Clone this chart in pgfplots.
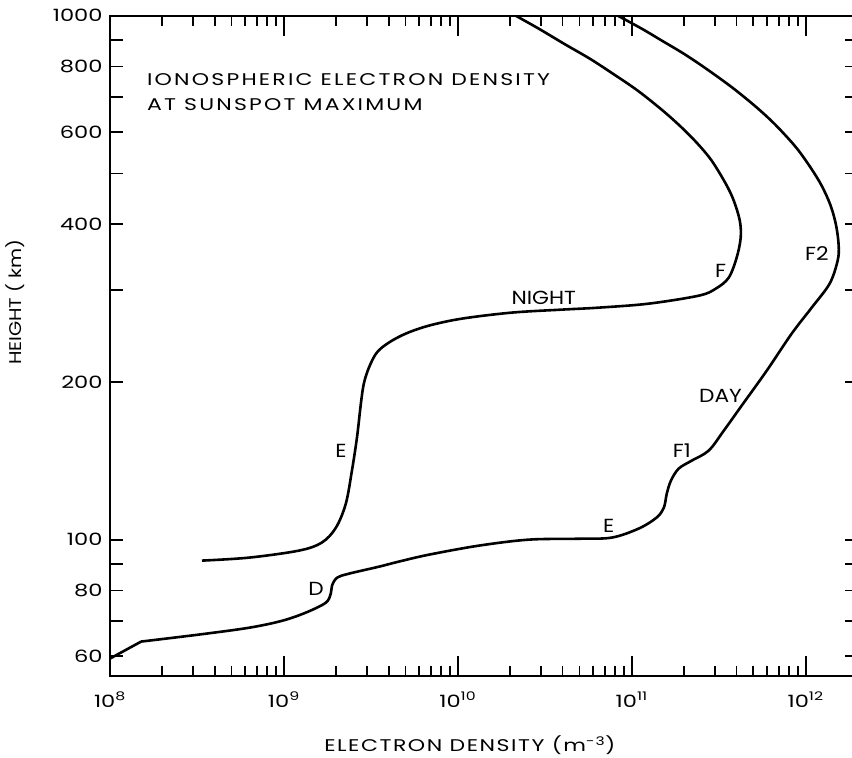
\documentclass[border=0pt]{standalone}
\usepackage{fontspec}
\setmainfont{Poppins}
\usepackage{graphicx}
\usepackage{pgfplots}
\pgfplotsset{compat=1.18}
\newcommand{\sx}[1]{\scalebox{1.33}[1]{#1}}
\newcommand{\wide}[1]{\scalebox{1.3}[1]{\addfontfeatures{LetterSpace=10}#1}}
\newcommand{\widex}[1]{\scalebox{1.3}[1]{\addfontfeatures{LetterSpace=7}#1}}
\newcommand{\cl}[1]{\scalebox{1.15}[1]{#1}}
\begin{document}
\begin{tikzpicture}[font=\fontsize{17}{20}\selectfont]
\begin{axis}[
  xmode=log, ymode=log,
  scale only axis, width=748bp, height=660bp,
  xmin=1e8, xmax=2e12, ymin=55, ymax=1000,
  axis line style={line width=2bp},
  every tick/.style={line width=1.8bp, black},
  tick align=inside,
  major tick length=20bp, minor tick length=10bp,
  xtick={1e8,1e9,1e10,1e11,1e12},
  xticklabels={\sx{10\textsuperscript{8}},\sx{10\textsuperscript{9}},\sx{10\textsuperscript{10}},\sx{10\textsuperscript{11}},\sx{10\textsuperscript{12}}},
  minor xtick={2e8,3e8,4e8,5e8,6e8,7e8,8e8,9e8,2e9,3e9,4e9,5e9,6e9,7e9,8e9,9e9,2e10,3e10,4e10,5e10,6e10,7e10,8e10,9e10,2e11,3e11,4e11,5e11,6e11,7e11,8e11,9e11},
  ytick={60,70,80,90,100,200,300,400,500,600,700,800,900,1000},
  yticklabels={\sx{60},,\sx{80},,\sx{100},\sx{200},,\sx{400},,\sx{600},,\sx{800},,\sx{1000}},
  ytick style={/pgfplots/major tick length=13bp},
  xticklabel style={yshift=-13bp, font=\fontsize{17}{20}\selectfont},
  yticklabel style={xshift=-4bp, font=\fontsize{17}{20}\selectfont},
  xlabel={\widex{ELECTRON DENSITY (m\textsuperscript{-3})}},
  ylabel={\scalebox{1.15}[1]{HEIGHT ( km)}},
  xlabel style={at={(rel axis cs:0.481,-0.105)}, anchor=center, font=\fontsize{17}{20}\selectfont},
  ylabel style={at={(rel axis cs:-0.127,0.566)}, anchor=center, font=\fontsize{17}{20}\selectfont},
]
\coordinate (O) at (rel axis cs:0,0);
% day: straight lower segment
\addplot[line width=2.6bp, black] coordinates {(1.0e8,59.3) (1.51e8,63.9)};
% day
\addplot[line width=2.6bp, black, smooth, tension=0.55] coordinates {
(1.51e8,63.9) (3.25e8,65.9) (6.29e8,67.9) (9.74e8,70.0) (1.34e9,72.6) (1.74e9,75.8)
(1.86e9,78.9) (1.89e9,81.7) (2.02e9,84.6) (2.36e9,86.1) (3.52e9,88.8) (4.58e9,90.8)
(6.81e9,93.6) (1.32e10,97.4) (2.56e10,100.0) (4.96e10,100.4) (7.67e10,100.9)
(1.097e11,105.0) (1.39e11,110.2) (1.53e11,115.1) (1.59e11,122.4) (1.68e11,129.6)
(1.86e11,136.6) (2.21e11,141.5) (2.77e11,147.9) (3.38e11,161.4) (4.29e11,180.3)
(5.97e11,210.1) (8.31e11,247.3) (1.083e12,277.2) (1.373e12,308.0) (1.527e12,340.8)
(1.548e12,364.0) (1.497e12,397.5) (1.392e12,434.0) (1.236e12,473.7) (1.068e12,512.8)
(8.83e11,559.9) (6.95e11,611.4) (5.74e11,650.1) (4.70e11,688.3) (3.66e11,735.3)
(2.63e11,795.7) (1.99e11,846.2) (1.49e11,896.1) (1.141e11,944.5) (8.31e10,1000)};
% night
\addplot[line width=2.6bp, black, smooth, tension=0.55] coordinates {
(3.38e8,91.2) (6.29e8,92.4) (1.22e9,95.3) (1.65e9,98.7) (1.99e9,105.4) (2.27e9,117.2)
(2.46e9,135.4) (2.63e9,156.6) (2.77e9,181.8) (2.88e9,198.5) (3.08e9,212.9)
(3.42e9,227.5) (4.01e9,237.7) (5.02e9,247.3) (6.81e9,256.1) (1.054e10,264.1)
(2.04e10,271.2) (3.96e10,274.8) (6.46e10,277.2) (1.25e11,282.1) (2.43e11,292.2)
(3.04e11,301.3) (3.61e11,316.2) (4.01e11,345.3) (4.23e11,377.0) (4.18e11,406.3)
(3.86e11,443.7) (3.47e11,478.0) (2.88e11,528.9) (2.39e11,569.9) (1.94e11,611.4)
(1.51e11,658.7) (1.083e11,719.3) (7.78e10,775.2) (5.74e10,827.8) (4.07e10,884.4)
(2.92e10,944.5) (2.15e10,1000)};
\node[anchor=base west, inner sep=0pt] at (axis cs:1.63e8,735.3) {\wide{IONOSPHERIC ELECTRON DENSITY}};
\node[anchor=base west, inner sep=0pt] at (axis cs:1.63e8,658.7) {\wide{AT SUNSPOT MAXIMUM}};
\begin{scope}[every node/.style={font=\fontsize{19}{22}\selectfont}]
\node at (axis cs:2.13e9,147.9) {\cl{E}};
\node at (axis cs:1.53e9,80.6) {\cl{D}};
\node at (axis cs:3.12e10,289.6) {\cl{NIGHT}};
\node at (axis cs:3.24e11,326) {\cl{F}};
\node at (axis cs:1.16e12,351.5) {\cl{F2}};
\node at (axis cs:3.24e11,188.3) {\cl{DAY}};
\node at (axis cs:1.94e11,147.9) {\cl{F1}};
\node at (axis cs:7.38e10,106.3) {\cl{E}};
\end{scope}
\end{axis}
\pgfresetboundingbox
\path[use as bounding box] ([shift={(-110bp,-82.3bp)}]O) rectangle ([shift={(742bp,675.7bp)}]O);
\end{tikzpicture}
\end{document}
